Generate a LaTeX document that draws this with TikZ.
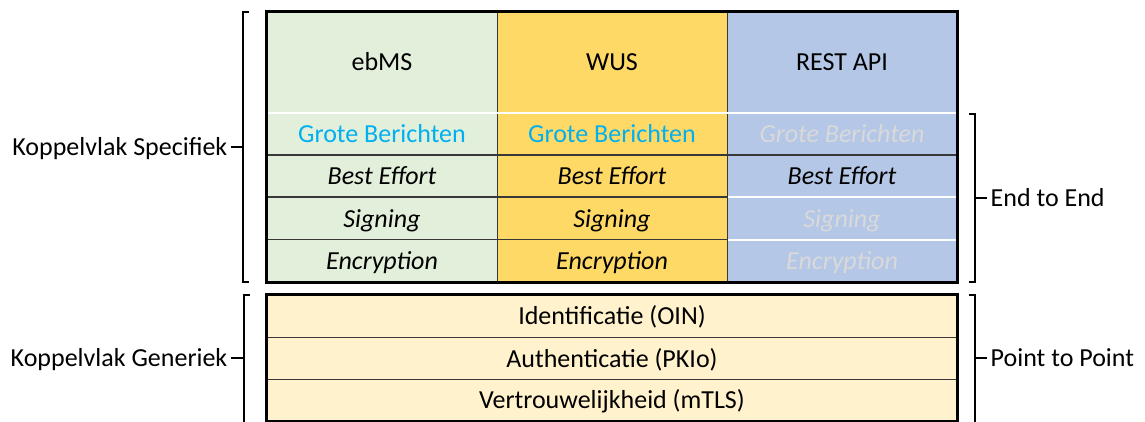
\documentclass[tikz,border=0pt]{standalone}
\usepackage{fontspec}
\setmainfont{Carlito}
\usepackage{tikz}
\usetikzlibrary{positioning, calc}

\newcommand{\cellfont}{\fontsize{26}{30}\selectfont}

\begin{document}
\begin{tikzpicture}[x=1pt, y=-1pt,
    cell/.style={rectangle, inner sep=0pt, minimum width=230pt, minimum height=42pt,
                 text height=22pt, text depth=5pt, font=\cellfont},
    head/.style={cell, minimum height=101pt},
    wide/.style={cell, minimum width=690pt, fill=genC},
    sep/.style={line width=1.4pt, draw=black!78},
    wsep/.style={line width=1.8pt, draw=white},
    border/.style={line width=2.8pt, draw=black},
    brk/.style={line width=1.4pt, draw=black},
    lbl/.style={inner ysep=0pt, inner xsep=3.5pt, text height=22pt, text depth=5pt, font=\cellfont},
]

% Color definitions
\definecolor{ebmsC}{HTML}{E2EFDA}
\definecolor{wusC}{HTML}{FFD966}
\definecolor{restC}{HTML}{B4C7E7}
\definecolor{genC}{HTML}{FFF2CC}
\definecolor{bigC}{HTML}{00B0F0}
\definecolor{offC}{HTML}{D9D9D9}

\useasboundingbox (0,0) rectangle (1145,422);

% Headers
\node[head, fill=ebmsC] (ebms) at (382,62.5) {ebMS};
\node[head, fill=wusC]  (wus)  at (612,62.5) {WUS};
\node[head, fill=restC] (rest) at (842,62.5) {REST API};

% ebMS column
\node[cell, fill=ebmsC, text=bigC] (ebmsG) at (382,134) {Grote Berichten};
\node[cell, fill=ebmsC] (ebmsB) at (382,176) {\itshape Best Effort};
\node[cell, fill=ebmsC] (ebmsS) at (382,218.5) {\itshape Signing};
\node[cell, fill=ebmsC] (ebmsE) at (382,261) {\itshape Encryption};

% WUS column
\node[cell, fill=wusC, text=bigC] (wusG) at (612,134) {Grote Berichten};
\node[cell, fill=wusC] (wusB) at (612,176) {\itshape Best Effort};
\node[cell, fill=wusC] (wusS) at (612,218.5) {\itshape Signing};
\node[cell, fill=wusC] (wusE) at (612,261) {\itshape Encryption};

% REST API column
\node[cell, fill=restC, text=offC] (restG) at (842,134) {\itshape Grote Berichten};
\node[cell, fill=restC] (restB) at (842,176) {\itshape Best Effort};
\node[cell, fill=restC, text=offC] (restS) at (842,218.5) {\itshape Signing};
\node[cell, fill=restC, text=offC] (restE) at (842,261) {\itshape Encryption};

% Generic part
\node[wide] (oin)  at (612,316)   {Identificatie (OIN)};
\node[wide] (pkio) at (612,358.5) {Authenticatie (PKIo)};
\node[wide] (mtls) at (612,400)   {Vertrouwelijkheid (mTLS)};

% Row separators
\draw[sep] (ebmsG.south west) -- (restG.south east);
\draw[sep] (ebmsB.south west) -- (wusB.south east);
\draw[sep] (ebmsS.south west) -- (wusS.south east);
\draw[wsep] (restB.south west) -- (restB.south east);
\draw[wsep] (restS.south west) -- (restS.south east);
\draw[sep] (ebms.north east) -- (ebmsE.south east);
\draw[sep] (wus.north east) -- (wusE.south east);
\draw[wsep] (ebms.south west) -- (rest.south east);
\draw[sep] (oin.south west) -- (oin.south east);
\draw[sep] (pkio.south west) -- (pkio.south east);

% Outer borders
\draw[border] (ebms.north west) rectangle (restE.south east);
\draw[border] (oin.north west) rectangle (mtls.south east);

% Left brackets
\node[lbl, anchor=east] (spec) at (231,147) {Koppelvlak Specifiek};
\node[lbl, anchor=east] (gen)  at (231,358) {Koppelvlak Generiek};
\draw[brk] (249,12) -- (243,12) -- (243,282) -- (249,282);
\draw[brk] (243,147) -- (spec.east);
\draw[brk] (250,295) -- (244,295) -- (244,423);
\draw[brk] (244,358) -- (gen.east);

% Right brackets
\node[lbl, anchor=west] (e2e) at (987,198) {End to End};
\node[lbl, anchor=west] (p2p) at (987,358) {Point to Point};
\draw[brk] (969,114) -- (975,114) -- (975,282) -- (969,282);
\draw[brk] (975,198) -- (e2e.west);
\draw[brk] (969,295) -- (975,295) -- (975,423);
\draw[brk] (975,358) -- (p2p.west);

\end{tikzpicture}
\end{document}
